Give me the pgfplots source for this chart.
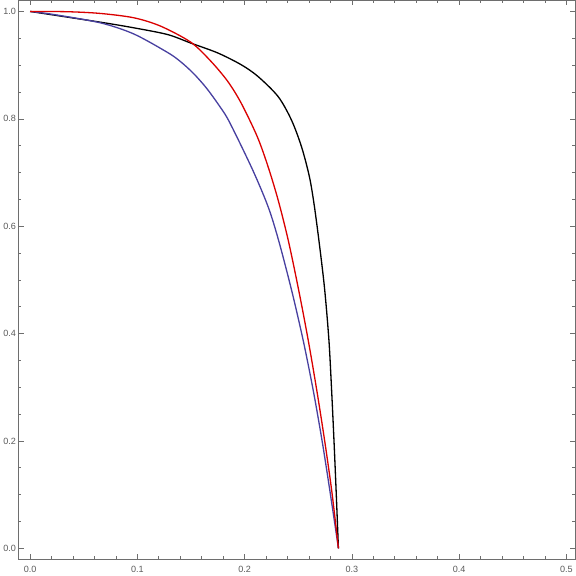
\documentclass[border=0pt]{standalone}
\usepackage{fontspec}
\setmainfont{Liberation Sans}
\usepackage{pgfplots}
\pgfplotsset{compat=1.18}
\definecolor{frame}{RGB}{110,110,110}
\definecolor{ticklab}{RGB}{90,90,90}
\definecolor{cblue}{RGB}{72,64,160}
\definecolor{cred}{RGB}{218,0,0}
\begin{document}
\begin{tikzpicture}
\begin{axis}[
    scale only axis,
    width=553.5pt, height=556pt,
    xmin=-0.0108, xmax=0.508,
    ymin=-0.0206, ymax=1.0206,
    xtick={0,0.1,0.2,0.3,0.4,0.5},
    ytick={0,0.2,0.4,0.6,0.8,1.0},
    minor x tick num=4,
    minor y tick num=3,
    tick align=inside,
    major tick length=5pt,
    minor tick length=3pt,
    xtick pos=both, ytick pos=both,
    xticklabel pos=lower, yticklabel pos=left,
    axis line style={frame, line width=0.8pt},
    every tick/.style={frame, line width=0.6pt},
    tick label style={font=\fontsize{9}{10}\selectfont, text=ticklab},
    xticklabel style={yshift=-3pt},
    yticklabel style={xshift=1pt},
    /pgf/number format/fixed,
    /pgf/number format/fixed zerofill,
    /pgf/number format/precision=1,
    /pgf/number format/assume math mode=true,
    scaled ticks=false,
]
% black curve
\addplot[black, line width=1.3pt, smooth, tension=0.5] coordinates {
(0,1) (0.0656,0.980) (0.0968,0.9695) (0.1282,0.957) (0.150,0.941)
(0.175,0.9227) (0.1969,0.9007) (0.2125,0.8789) (0.2313,0.8414)
(0.2437,0.7978) (0.2531,0.7478) (0.2605,0.6916) (0.2652,0.6354)
(0.2705,0.5543) (0.2748,0.4794) (0.2787,0.3858) (0.2812,0.2921)
(0.2834,0.1985) (0.2854,0.1049) (0.2875,0)
};
% blue curve
\addplot[cblue, line width=1.3pt, smooth, tension=0.5] coordinates {
(0,1) (0.0218,0.9944) (0.0656,0.9788) (0.0968,0.958) (0.1282,0.9236)
(0.140,0.907) (0.152,0.8853) (0.164,0.8584) (0.176,0.8256) (0.1859,0.794)
(0.2075,0.705) (0.2221,0.6354)
(0.2318,0.573) (0.2440,0.4794) (0.2548,0.3858) (0.2642,0.2921)
(0.2724,0.1985) (0.2797,0.1049) (0.2875,0)
};
% red curve
\addplot[cred, line width=1.3pt, smooth, tension=0.5] coordinates {
(0,1) (0.035,0.9995) (0.0656,0.9963) (0.0968,0.9882) (0.1219,0.9725)
(0.15,0.9425) (0.1687,0.907) (0.1844,0.8695) (0.1969,0.829)
(0.2119,0.7665) (0.2220,0.7103) (0.2314,0.6479) (0.2408,0.573)
(0.2506,0.4794) (0.2595,0.3858) (0.2675,0.2921) (0.2748,0.1985)
(0.2814,0.1049) (0.2875,0)
};
\end{axis}
\end{tikzpicture}
\end{document}
